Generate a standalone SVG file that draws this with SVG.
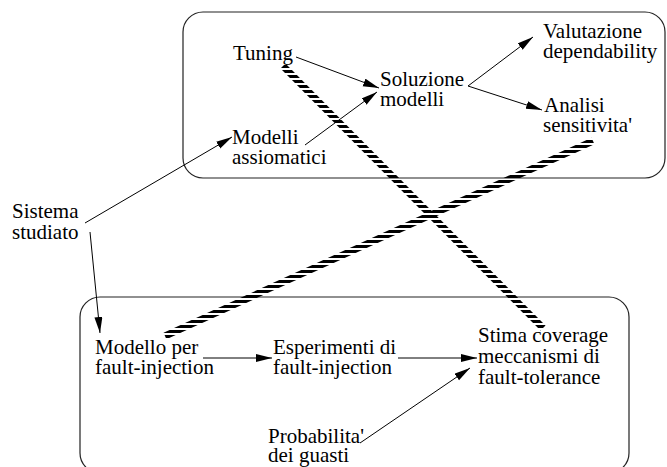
<svg xmlns="http://www.w3.org/2000/svg" width="667" height="467" viewBox="0 0 667 467">
<style>
.box{fill:none;stroke:#222;stroke-width:1.2}
.c{fill:none;stroke:#000;stroke-width:1;marker-end:url(#ah)}
.h{fill:none;stroke:url(#hatch);stroke-width:7}
</style>
<defs>
<marker id="ah" markerUnits="userSpaceOnUse" markerWidth="18" markerHeight="10" refX="16" refY="4" orient="auto">
<path d="M0,0 L16,4 L0,8 z" fill="#000"/>
</marker>
<pattern id="hatch" patternUnits="userSpaceOnUse" width="20" height="5">
<rect x="0" y="0" width="20" height="3" fill="#000"/>
</pattern>
</defs>
<g id="box-top"><rect class="box" x="183" y="12" width="482" height="166" rx="20" ry="20"/></g>
<g id="box-bottom"><rect class="box" x="80" y="297" width="549" height="176" rx="20" ry="20"/></g>
<g id="connectors">
<line class="c" x1="296" y1="57" x2="379" y2="88"/>
<line class="c" x1="305" y1="145" x2="377" y2="92"/>
<line class="c" x1="468" y1="86" x2="533" y2="37"/>
<line class="c" x1="468" y1="86" x2="542" y2="110"/>
<line class="c" x1="85" y1="223" x2="232" y2="137"/>
<line class="c" x1="90" y1="232" x2="100" y2="333"/>
<line class="c" x1="203" y1="358" x2="272" y2="358"/>
<line class="c" x1="398" y1="358" x2="477" y2="358"/>
<line class="c" x1="360" y1="443" x2="470" y2="368"/>
<line class="h" x1="283" y1="66" x2="543" y2="328"/>
<line class="h" x1="165" y1="336" x2="593" y2="141"/>
</g>
<g font-family="'Liberation Serif', 'Times New Roman', Times, 'DejaVu Serif', serif" font-size="21" fill="#000">
<g id="tuning"><text x="233" y="60">Tuning</text></g>
<g id="soluzione"><text x="380" y="86">Soluzione</text><text x="380" y="106">modelli</text></g>
<g id="valutazione"><text x="543" y="38">Valutazione</text><text x="543" y="58">dependability</text></g>
<g id="analisi"><text x="544" y="112">Analisi</text><text x="543" y="132">sensitivita'</text></g>
<g id="modelli"><text x="232" y="144">Modelli</text><text x="232" y="164">assiomatici</text></g>
<g id="sistema"><text x="12" y="218">Sistema</text><text x="12" y="239">studiato</text></g>
<g id="modello-fi"><text x="95" y="354">Modello per</text><text x="95" y="374">fault-injection</text></g>
<g id="esperimenti"><text x="273" y="354">Esperimenti di</text><text x="273" y="374">fault-injection</text></g>
<g id="stima"><text x="478" y="342">Stima coverage</text><text x="478" y="363">meccanismi di</text><text x="478" y="384">fault-tolerance</text></g>
<g id="probabilita"><text x="268" y="443">Probabilita'</text><text x="268" y="462">dei guasti</text></g>
</g>
</svg>
